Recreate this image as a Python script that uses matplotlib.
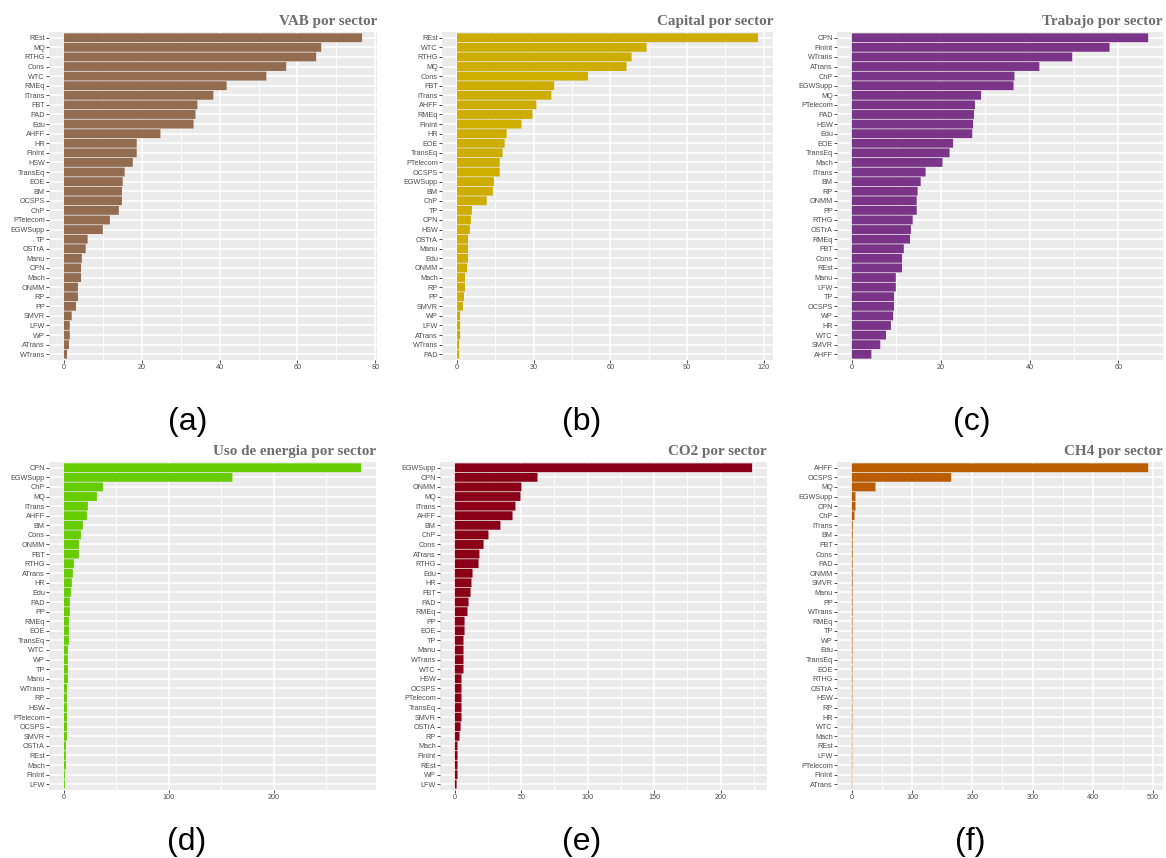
import numpy as np
import matplotlib
matplotlib.use("Agg")
import matplotlib.pyplot as plt
from matplotlib.ticker import FixedLocator

# --- data (sectors listed top to bottom, as shown) ---
vab_sectors = ["REst", "MQ", "RTHG", "Cons", "WTC", "RMEq", "ITrans", "FBT", "PAD", "Edu",
               "AHFF", "HR", "FinInt", "HSW", "TransEq", "EOE", "BM", "OCSPS", "ChP", "PTelecom",
               "EGWSupp", "TP", "OSTrA", "Manu", "CPN", "Mach", "ONMM", "RP", "PP", "SMVR",
               "LFW", "WP", "ATrans", "WTrans"]
vab_values = [76.6, 66.1, 64.8, 57.1, 52.0, 41.8, 38.4, 34.3, 33.8, 33.3,
              24.8, 18.7, 18.7, 17.7, 15.6, 15.1, 14.9, 14.9, 14.1, 11.8,
              10.0, 6.1, 5.6, 4.6, 4.4, 4.4, 3.6, 3.6, 3.1, 2.0,
              1.5, 1.5, 1.3, 0.8]

cap_sectors = ["REst", "WTC", "RTHG", "MQ", "Cons", "FBT", "ITrans", "AHFF", "RMEq", "FinInt",
               "HR", "EOE", "TransEq", "PTelecom", "OCSPS", "EGWSupp", "BM", "ChP", "TP", "CPN",
               "HSW", "OSTrA", "Manu", "Edu", "ONMM", "Mach", "RP", "PP", "SMVR", "WP",
               "LFW", "ATrans", "WTrans", "PAD"]
cap_values = [117.7, 74.1, 68.3, 66.3, 51.2, 38.0, 36.9, 31.0, 29.5, 25.2,
              19.4, 18.6, 17.8, 16.7, 16.7, 14.4, 14.0, 11.6, 5.8, 5.4,
              5.0, 4.3, 4.3, 4.3, 3.9, 3.1, 3.1, 2.7, 2.3, 1.2,
              1.2, 1.2, 0.8, 0.8]

trab_sectors = ["CPN", "FinInt", "WTrans", "ATrans", "ChP", "EGWSupp", "MQ", "PTelecom", "PAD", "HSW",
                "Edu", "EOE", "TransEq", "Mach", "ITrans", "BM", "RP", "ONMM", "PP", "RTHG",
                "OSTrA", "RMEq", "FBT", "Cons", "REst", "Manu", "LFW", "TP", "OCSPS", "WP",
                "HR", "WTC", "SMVR", "AHFF"]
trab_values = [66.7, 58.0, 49.6, 42.2, 36.6, 36.4, 29.1, 27.7, 27.5, 27.3,
               27.1, 22.8, 22.0, 20.4, 16.6, 15.5, 14.8, 14.6, 14.6, 13.7,
               13.3, 13.1, 11.7, 11.3, 11.3, 9.9, 9.9, 9.5, 9.5, 9.3,
               8.8, 7.7, 6.4, 4.4]

ener_sectors = ["CPN", "EGWSupp", "ChP", "MQ", "ITrans", "AHFF", "BM", "Cons", "ONMM", "FBT",
                "RTHG", "ATrans", "HR", "Edu", "PAD", "PP", "RMEq", "EOE", "TransEq", "WTC",
                "WP", "TP", "Manu", "WTrans", "RP", "HSW", "PTelecom", "OCSPS", "SMVR", "OSTrA",
                "REst", "Mach", "FinInt", "LFW"]
ener_values = [283.3, 160.6, 37.2, 31.5, 22.9, 21.9, 18.1, 16.2, 14.3, 14.3,
               9.5, 8.6, 7.6, 6.7, 5.7, 5.7, 4.8, 4.8, 4.8, 3.8,
               3.8, 3.8, 3.8, 2.9, 2.9, 2.9, 2.9, 2.9, 2.9, 1.9,
               1.9, 1.9, 1.0, 1.0]

co2_sectors = ["EGWSupp", "CPN", "ONMM", "MQ", "ITrans", "AHFF", "BM", "ChP", "Cons", "ATrans",
               "RTHG", "Edu", "HR", "FBT", "PAD", "RMEq", "PP", "EOE", "TP", "Manu",
               "WTrans", "WTC", "HSW", "OCSPS", "PTelecom", "TransEq", "SMVR", "OSTrA", "RP", "Mach",
               "FinInt", "REst", "WP", "LFW"]
co2_values = [223.8, 62.2, 50.1, 49.4, 45.6, 43.4, 34.3, 25.3, 21.6, 18.5,
              17.8, 13.3, 12.5, 11.8, 10.3, 9.5, 7.3, 7.3, 6.5, 6.5,
              6.5, 6.5, 5.0, 5.0, 5.0, 5.0, 5.0, 4.3, 3.5, 2.0,
              2.0, 2.0, 2.0, 1.3]

ch4_sectors = ["AHFF", "OCSPS", "MQ", "EGWSupp", "CPN", "ChP", "ITrans", "BM", "FBT", "Cons",
               "PAD", "ONMM", "SMVR", "Manu", "PP", "WTrans", "RMEq", "TP", "WP", "Edu",
               "TransEq", "EOE", "RTHG", "OSTrA", "HSW", "RP", "HR", "WTC", "Mach", "REst",
               "LFW", "PTelecom", "FinInt", "ATrans"]
ch4_values = [492.0, 165.0, 39.3, 6.1, 6.1, 4.4, 1.6, 1.5, 1.4, 1.4,
              1.3, 1.3, 1.3, 1.2, 1.2, 1.2, 1.1, 1.1, 1.1, 1.1,
              1.0, 1.0, 1.0, 1.0, 0.9, 0.9, 0.9, 0.9, 0.8, 0.8,
              0.8, 0.8, 0.7, 0.7]

panels = [
    ("VAB por sector", vab_sectors, vab_values, "#936B4F", [0, 20, 40, 60, 80]),
    ("Capital por sector", cap_sectors, cap_values, "#CCAD00", [0, 30, 60, 90, 120]),
    ("Trabajo por sector", trab_sectors, trab_values, "#7A3589", [0, 20, 40, 60]),
    ("Uso de energia por sector", ener_sectors, ener_values, "#66CC00", [0, 100, 200]),
    ("CO2 por sector", co2_sectors, co2_values, "#8A0016", [0, 50, 100, 150, 200]),
    ("CH4 por sector", ch4_sectors, ch4_values, "#BA5C00", [0, 100, 200, 300, 400, 500]),
]
letters = ["(a)", "(b)", "(c)", "(d)", "(e)", "(f)"]

W, H = 1166, 858
# panel boxes in pixels: left, top, right, bottom
boxes = [(49, 32, 377, 360), (442, 32, 773, 360), (837, 32, 1163, 360),
         (49, 462, 376, 790), (440, 462, 767, 790), (837, 462, 1163, 790)]
letter_pos = [(188, 422), (582, 422), (972, 422), (187, 842), (582, 842), (970, 842)]

fig = plt.figure(figsize=(W / 100, H / 100), dpi=100)

for (title, sectors, values, color, ticks), (l, t, r, b) in zip(panels, boxes):
    ax = fig.add_axes([l / W, 1 - b / H, (r - l) / W, (b - t) / H])
    n = len(sectors)
    ypos = np.arange(n)[::-1]
    ax.set_facecolor("#EBEBEB")
    bars = ax.barh(ypos, values, height=0.92, color=color, zorder=3)
    for bar in bars:
        bar.set_snap(False)  # keep the hair-thin CH4 bars visible

    vmax = max(values)
    ax.set_xlim(-0.05 * vmax, 1.05 * vmax)
    ax.set_ylim(-0.6, n - 0.4)

    step = ticks[1] - ticks[0]
    minor = np.arange(-step / 2, 1.05 * vmax, step)
    ax.xaxis.set_major_locator(FixedLocator(ticks))
    ax.xaxis.set_minor_locator(FixedLocator(minor))
    ax.set_yticks(ypos)
    ax.set_yticklabels(sectors)

    ax.grid(which="major", color="white", linewidth=1.1, zorder=1)
    ax.grid(which="minor", axis="x", color="white", linewidth=0.55, zorder=1)
    ax.set_axisbelow(True)
    for s in ax.spines.values():
        s.set_visible(False)

    ax.tick_params(axis="both", which="major", length=2, width=0.6, color="#333333",
                   labelsize=5.2, labelcolor="#4D4D4D", pad=1)
    ax.tick_params(axis="x", which="minor", length=0)
    for lab in ax.get_xticklabels() + ax.get_yticklabels():
        lab.set_family("Liberation Sans")

    ax.set_title(title, loc="right", pad=5, fontsize=10.9, fontweight="bold",
                 family="Liberation Serif", color="#6E6E6E")

for txt, (x, y) in zip(letters, letter_pos):
    fig.text(x / W, 1 - y / H, txt, ha="center", va="center", fontsize=23,
             family="Liberation Sans", color="black")

fig.savefig("out.png", dpi=100)
